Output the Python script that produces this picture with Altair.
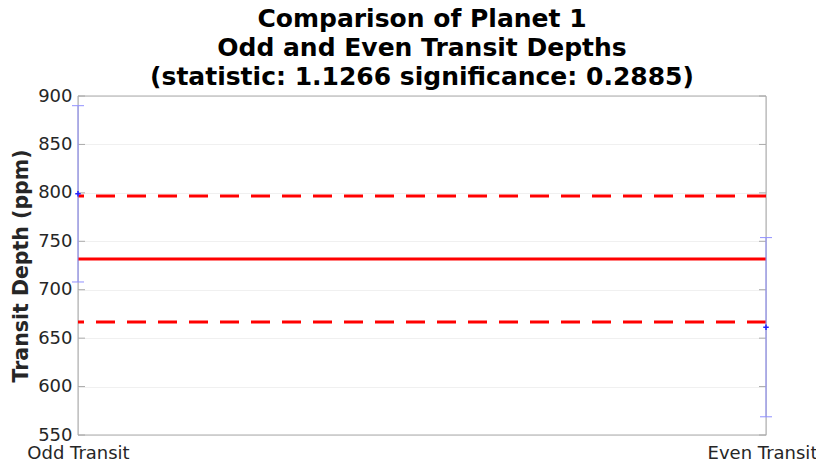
import altair as alt
import pandas as pd

categories = ["Odd Transit", "Even Transit"]
cat_pos = [1, 2]
depths = [799.0, 661.3]
depth_err = [91.0, 92.5]
mean_depth = 731.7
mean_err = 65.0
y_ticks = [550, 600, 650, 700, 750, 800, 850, 900]

W, H = 688, 339
FONT = "DejaVu Sans"
TXT = "#262626"
FRAME = "#aaaaaa"

pts = pd.DataFrame({
    "x": cat_pos,
    "cat": categories,
    "depth": depths,
    "lo": [d - e for d, e in zip(depths, depth_err)],
    "hi": [d + e for d, e in zip(depths, depth_err)],
})
ticks_df = pd.DataFrame({"t": y_ticks})
lines_df = pd.DataFrame({
    "v": [mean_depth, mean_depth + mean_err, mean_depth - mean_err],
    "kind": ["mean", "upper", "lower"],
})

xscale = alt.Scale(domain=[1, 2], nice=False, zero=False)
yscale = alt.Scale(domain=[550, 900], nice=False, zero=False)

xaxis = alt.Axis(values=cat_pos, labelExpr="datum.value == 1 ? 'Odd Transit' : 'Even Transit'",
                 grid=False, ticks=False, domain=False, title=None, labelFontSize=18,
                 labelFont=FONT, labelColor=TXT, labelPadding=9, labelFlush=False,
                 labelOffset={"condition": {"test": "datum.value == 2", "value": -4}, "value": 0})
yaxis = alt.Axis(values=y_ticks, grid=True, gridColor="#f0f0f0", ticks=False, domain=False,
                 title="Transit Depth (ppm)", titleFontSize=20.5, titleFont=FONT,
                 titleFontWeight="bold", titleColor=TXT, labelFontSize=18, labelFont=FONT,
                 labelColor=TXT, labelPadding=6, titlePadding=6)

base = alt.Chart(pts)

grid = alt.Chart(ticks_df).mark_rule(opacity=0).encode(
    x=alt.X("x:Q", scale=xscale, axis=xaxis),
    y=alt.Y("t:Q", scale=yscale, axis=yaxis),
).transform_calculate(x="1")

tick_l = alt.Chart(ticks_df).mark_rule(color=FRAME, strokeWidth=1).encode(
    y=alt.Y("t:Q", scale=yscale), x=alt.value(0), x2=alt.value(7))
tick_r = alt.Chart(ticks_df).mark_rule(color=FRAME, strokeWidth=1).encode(
    y=alt.Y("t:Q", scale=yscale), x=alt.value(W - 7), x2=alt.value(W))

frame_df = pd.DataFrame({"side": ["frame"]})
frame = alt.Chart(frame_df).mark_rect(fill=None, stroke=FRAME, strokeWidth=1, filled=False).encode(
    x=alt.value(0), x2=alt.value(W), y=alt.value(0), y2=alt.value(H))

mean_line = alt.Chart(lines_df).transform_filter("datum.kind == 'mean'").mark_rule(
    color="#ff0000", strokeWidth=3).encode(y=alt.Y("v:Q", scale=yscale))
band_lines = alt.Chart(lines_df).transform_filter("datum.kind != 'mean'").mark_rule(
    color="#ff0000", strokeWidth=3, strokeDash=[19, 12]).encode(y=alt.Y("v:Q", scale=yscale))

EB = "#9090ff"
err = base.mark_rule(color=EB, strokeWidth=1).encode(
    x=alt.X("x:Q", scale=xscale), y=alt.Y("lo:Q", scale=yscale), y2="hi:Q")
cap_hi = base.mark_tick(color=EB, orient="horizontal", size=12, thickness=1, opacity=1).encode(
    x=alt.X("x:Q", scale=xscale), y=alt.Y("hi:Q", scale=yscale))
cap_lo = base.mark_tick(color=EB, orient="horizontal", size=12, thickness=1, opacity=1).encode(
    x=alt.X("x:Q", scale=xscale), y=alt.Y("lo:Q", scale=yscale))
point = base.mark_point(shape="M-1,0L1,0M0,-1L0,1", size=30, color="#2020ff", strokeWidth=1.5,
                        filled=False, opacity=1).encode(
    x=alt.X("x:Q", scale=xscale), y=alt.Y("depth:Q", scale=yscale))

chart = alt.layer(grid, tick_l, tick_r, frame, mean_line, band_lines, err, cap_hi, cap_lo, point).properties(
    width=W, height=H,
    title=alt.TitleParams(
        text=["Comparison of Planet 1", "Odd and Even Transit Depths",
              "(statistic: 1.1266 significance: 0.2885)"],
        fontSize=25, font=FONT, fontWeight="bold", color="#000000", anchor="middle",
        lineHeight=29, offset=-3),
    autosize=alt.AutoSizeParams(type="none"),
    padding={"left": 70, "top": 88, "right": 50, "bottom": 28},
).configure_view(stroke=None).configure(background="white")

chart.save("out.html", embed_options={"renderer": "svg", "actions": False})
